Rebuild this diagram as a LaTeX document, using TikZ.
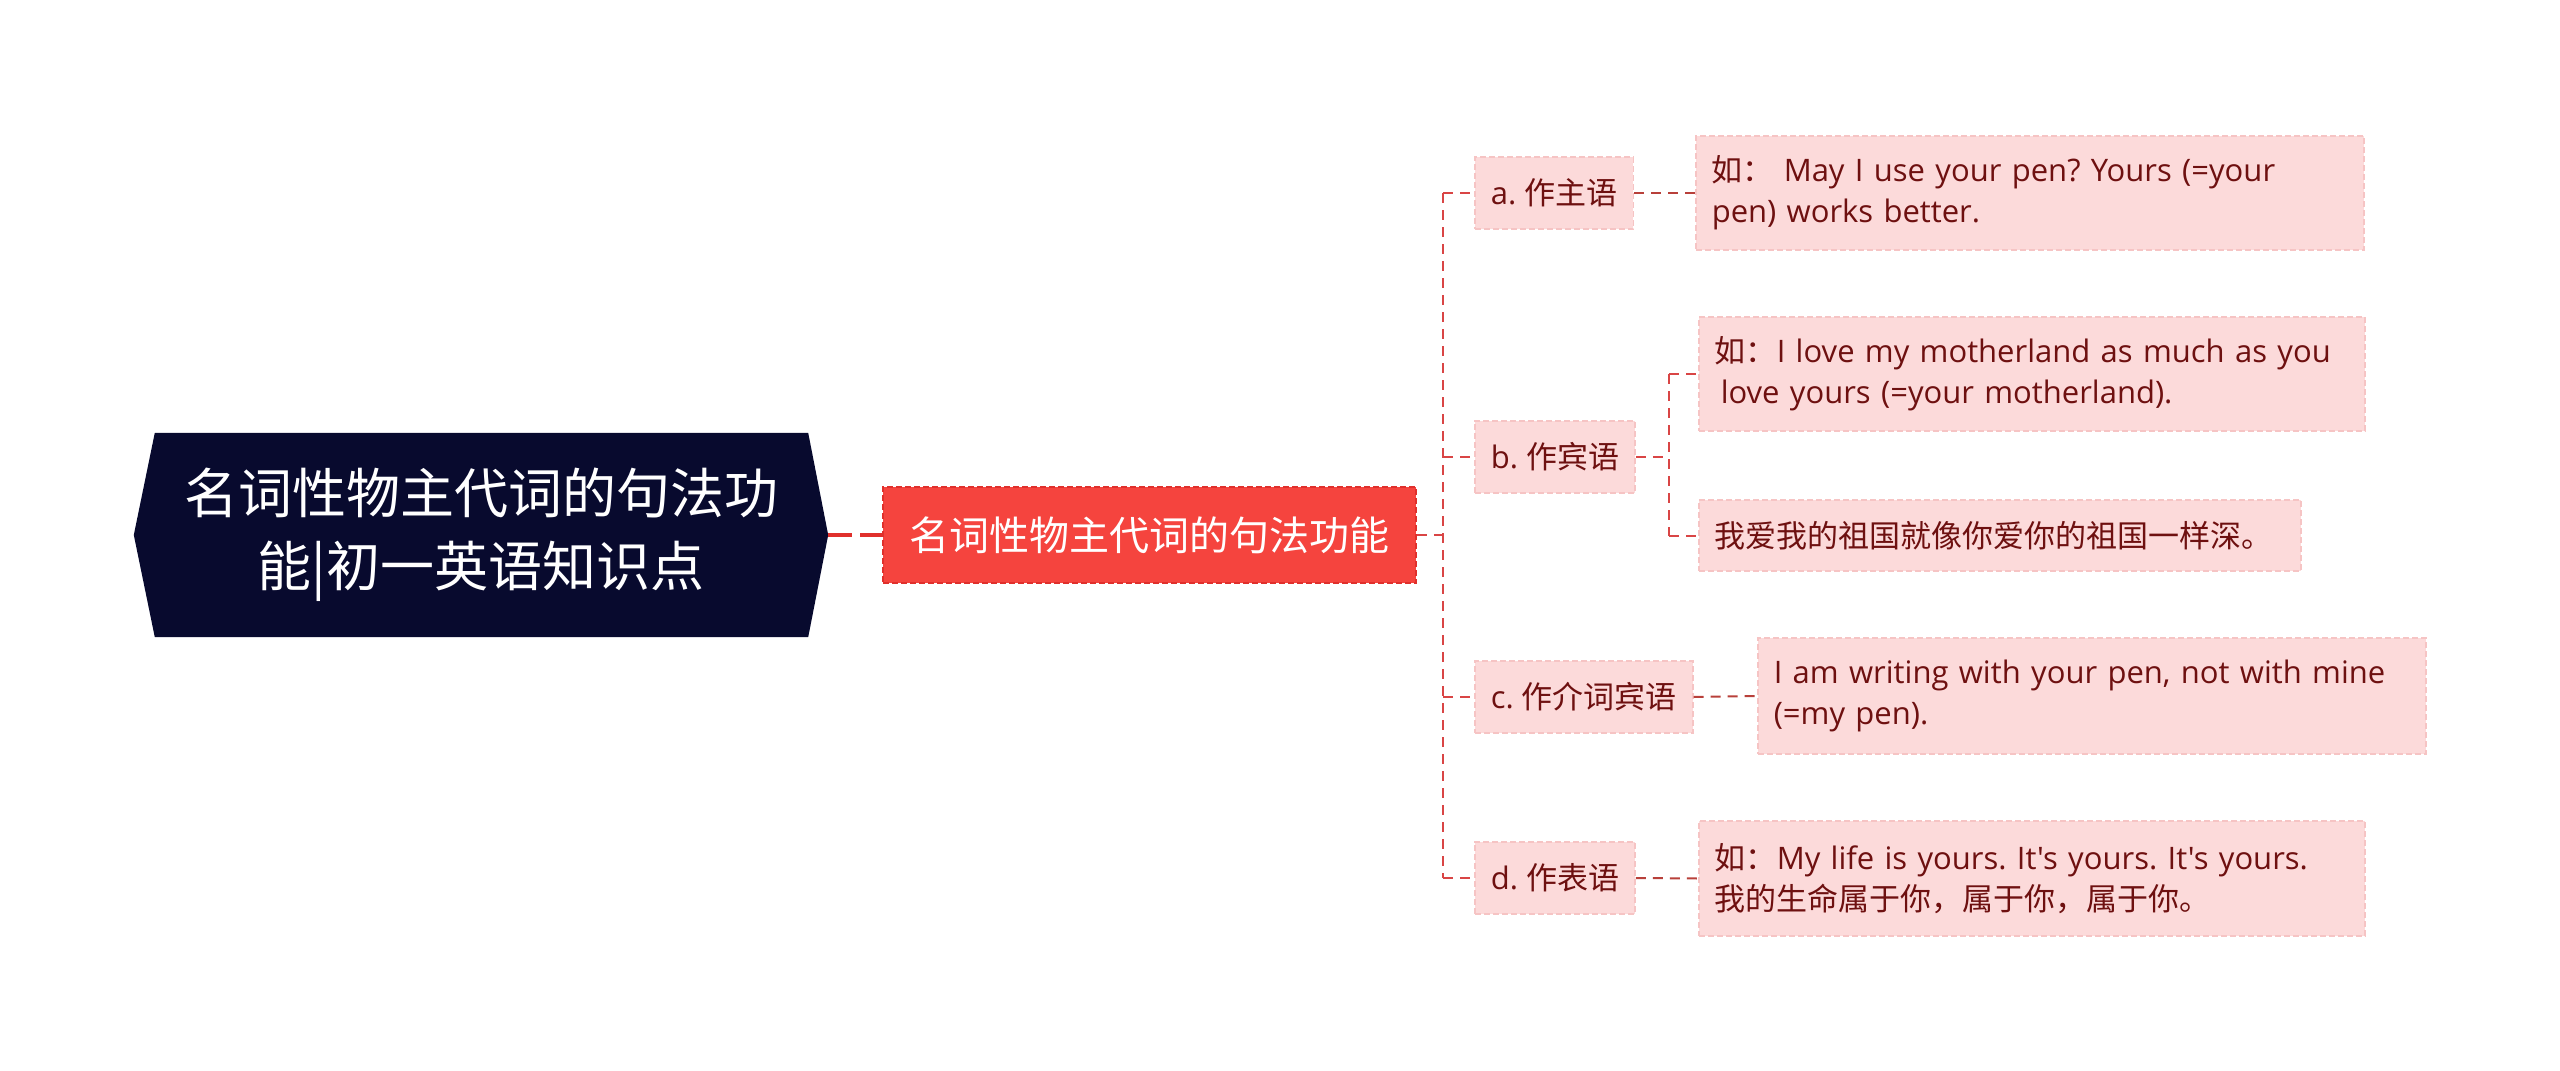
\documentclass[tikz,border=0pt]{standalone}
\usepackage{fontspec}
\setmainfont{Open Sans}[Ligatures=TeXOff]
\newfontfamily\cjk{Noto Sans CJK SC}
\definecolor{rootfill}{HTML}{080A2E}
\definecolor{mainfill}{HTML}{F5443E}
\definecolor{mainedge}{HTML}{E0302C}
\definecolor{pinkfill}{HTML}{FCDADA}
\definecolor{pinkedge}{HTML}{F6C4C4}
\definecolor{leaftext}{HTML}{6E1010}
\definecolor{trunkline}{HTML}{D94545}
\definecolor{leafline}{HTML}{B8403A}
\frenchspacing
\begin{document}
\begin{tikzpicture}[x=1pt,y=-1pt,
  conn/.style={draw=trunkline, line width=2pt, dash pattern=on 10pt off 7pt},
  leafconn/.style={draw=leafline, line width=2pt, dash pattern=on 10pt off 7pt},
  subbox/.style={fill=pinkfill, draw=pinkedge, line width=1.5pt, dash pattern=on 6pt off 3pt,
    anchor=west, inner xsep=16pt, inner ysep=0pt, minimum height=72pt,
    text=leaftext, font=\fontsize{31}{41}\selectfont},
  leafbox/.style={fill=pinkfill, draw=pinkedge, line width=1.5pt, dash pattern=on 6pt off 3pt,
    anchor=west, inner xsep=16pt, inner ysep=0pt, align=left,
    text=leaftext, font=\fontsize{31}{41}\selectfont}
]
\useasboundingbox (0,0) rectangle (2560,1071);

% root
\node[minimum width=694pt, minimum height=204pt, inner sep=0pt] (root) at (481,535) {};
\fill[rootfill] (root.west) -- ([xshift=21pt]root.north west) -- ([xshift=-20pt]root.north east)
  -- (root.east) -- ([xshift=-20pt]root.south east) -- ([xshift=21pt]root.south west) -- cycle;
\node[text=white, align=center, font=\cjk\fontsize{54}{73}\selectfont] (roottext) at (481,535)
  {名词性物主代词的句法功\\能|初一英语知识点};

% main
\node[fill=mainfill, draw=mainedge, line width=1.5pt, dash pattern=on 6pt off 3pt,
  minimum width=533pt, minimum height=96pt, inner sep=0pt, text=white,
  font=\cjk\fontsize{40}{48}\selectfont] (main) at (1149.5,535) {名词性物主代词的句法功能};

% sub nodes
\node[subbox] (a) at (1474,193) {a. {\cjk 作主语}};
\node[subbox] (b) at (1474,457) {b. {\cjk 作宾语}};
\node[subbox] (c) at (1474,697) {c. {\cjk 作介词宾语}};
\node[subbox] (d) at (1474,878) {d. {\cjk 作表语}};

% leaves
\node[leafbox, text width=636pt, minimum height=114pt] (al) at (1695,193)
  {{\cjk 如：}\hspace{10pt}May I use your pen? Yours (=your\\pen) works better.};
\node[leafbox, text width=634pt, minimum height=114pt] (bl1) at (1698,374)
  {{\cjk 如：}I love my motherland as much as you\\\hspace{6pt}love yours (=your motherland).};
\node[leafbox, text width=570pt, minimum height=71pt] (bl2) at (1698,535.5)
  {{\cjk 我爱我的祖国就像你爱你的祖国一样深。}};
\node[leafbox, text width=636pt, minimum height=116pt] (cl) at (1757,696)
  {I am writing with your pen, not with mine\\(=my pen).};
\node[leafbox, text width=634pt, minimum height=115pt] (dl) at (1698,878.5)
  {{\cjk 如：}My life is yours. It's yours. It's yours.\\{\cjk 我的生命属于你，属于你，属于你。}};

% connectors
\draw[draw=mainedge, line width=3.5pt, dash pattern=on 24pt off 8pt] (root.east) -- (main.west);
\coordinate (j) at (1443,535);
\draw[conn] (main.east) -- (j);
\draw[conn] (j |- a.west) -- (j |- d.west);
\draw[conn] (j |- a.west) -- (a.west);
\draw[conn] (j |- b.west) -- (b.west);
\draw[conn] (j |- c.west) -- (c.west);
\draw[conn] (j |- d.west) -- (d.west);

\draw[leafconn] (a.east) -- (al.west);
\coordinate (jb) at (1669,457);
\draw[conn] (b.east) -- (jb);
\draw[conn] (jb |- bl1.west) -- (jb |- bl2.west);
\draw[conn] (jb |- bl1.west) -- (bl1.west);
\draw[conn] (jb |- bl2.west) -- (bl2.west);
\draw[leafconn] (c.east) -- (cl.west);
\draw[leafconn] (d.east) -- (dl.west);
\end{tikzpicture}
\end{document}
